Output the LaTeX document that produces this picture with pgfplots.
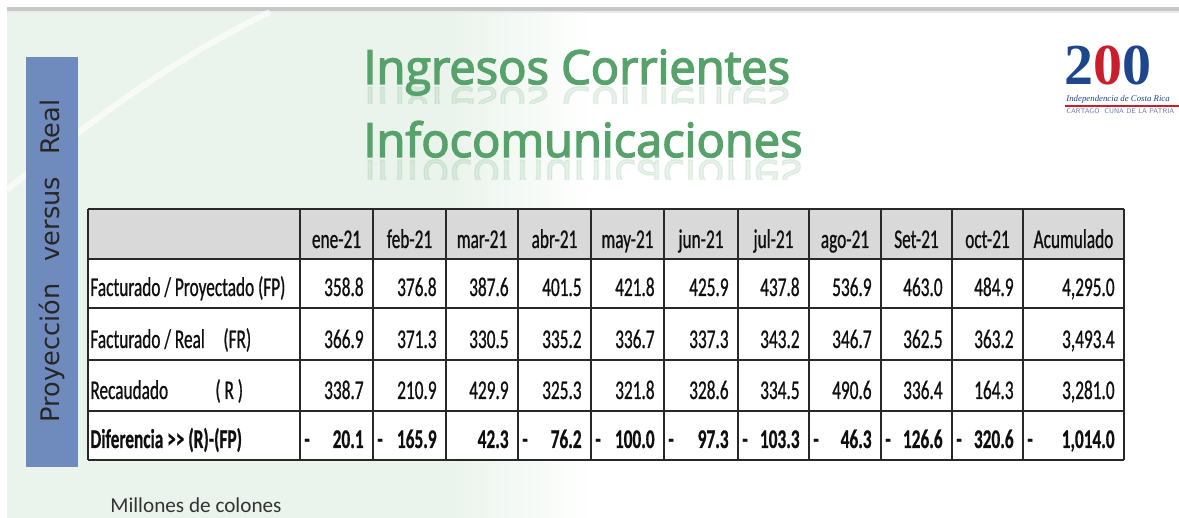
\documentclass[border=0pt]{standalone}
\usepackage{pgfplots}
\usepackage{pgfplotstable}
\pgfplotsset{compat=1.18}
\usepackage{fontspec}
\setmainfont{Carlito}
\newfontfamily\tabfont{Carlito}[FakeStretch=0.64, UprightFeatures={FakeBold=0.7}, BoldFeatures={FakeBold=0.6}]
\newfontfamily\titlefont{Open Sans}[FakeBold=3]
\newfontfamily\sidefont{DejaVu Sans}
\newfontfamily\logofont{Liberation Serif}
\definecolor{bggreen}{RGB}{235,244,236}
\definecolor{sideblue}{RGB}{111,139,189}
\definecolor{titlegreen}{RGB}{86,162,106}
\definecolor{hdrgray}{RGB}{217,217,217}
\definecolor{gridc}{RGB}{40,40,40}
\definecolor{logoblue}{RGB}{30,70,140}
\definecolor{logored}{RGB}{200,30,45}
\definecolor{txt}{RGB}{15,15,15}
\pgfdeclarehorizontalshading{bgsh}{100bp}{color(0bp)=(bggreen); color(44bp)=(bggreen); color(50bp)=(white); color(100bp)=(white)}

\pgfplotstableread{
mes xl xr FP FR R D Dsign
ene-21 300 373 358.8 366.9 338.7 20.1 -
feb-21 373 446 376.8 371.3 210.9 165.9 -
mar-21 446 518 387.6 330.5 429.9 42.3 {}
abr-21 518 591 401.5 335.2 325.3 76.2 -
may-21 591 664 421.8 336.7 321.8 100.0 -
jun-21 664 738 425.9 337.3 328.6 97.3 -
jul-21 738 809 437.8 343.2 334.5 103.3 -
ago-21 809 881 536.9 346.7 490.6 46.3 -
Set-21 881 952 463.0 362.5 336.4 126.6 -
oct-21 952 1023 484.9 363.2 164.3 320.6 -
Acumulado 1023 1124 4,295.0 3,493.4 3,281.0 1,014.0 -
}\datos

\newcommand\tabsize{\tabfont\fontsize{13.5}{16}\selectfont}
\newcommand\ttl{\titlefont\fontsize{23.5}{28}\selectfont}

\begin{document}
\begin{tikzpicture}
\begin{axis}[
  width=589.5pt, height=259pt, scale only axis,
  xmin=0, xmax=1179, ymin=0, ymax=518, y dir=reverse,
  hide axis, clip=true,
  every node near coord/.append style={inner sep=0pt, text=txt, font=\tabsize},
]
% background
\fill[white] (axis cs:0,0) rectangle (axis cs:1179,518);
\shade[shading=bgsh] (axis cs:7,12) rectangle (axis cs:1179,518);
\fill[black!22] (axis cs:7,7) rectangle (axis cs:1179,11);
\fill[black!8] (axis cs:7,11) rectangle (axis cs:1179,13);
\draw[white, opacity=0.6, line width=3pt] (axis cs:7,190) .. controls (axis cs:90,120) and (axis cs:180,55) .. (axis cs:270,12);
% side box
\fill[sideblue] (axis cs:26,57) rectangle (axis cs:78,467);
\node[rotate=90, text=black!85, font=\sidefont\fontsize{12.8}{14}\selectfont] at (axis cs:52,261) {Proyección\hspace{7pt} versus\hspace{7pt} Real};
% title
\node[anchor=base west, inner sep=0pt, text=titlegreen, font=\ttl] at (axis cs:363,84) {Ingresos Corrientes};
\node[anchor=base west, inner sep=0pt, text=titlegreen, font=\ttl] at (axis cs:363,157) {Infocomunicaciones};
\begin{scope}
\clip (axis cs:340,87) rectangle (axis cs:830,104);
\node[anchor=base west, inner sep=0pt, yscale=-1, transform shape, text=titlegreen, opacity=0.13, font=\ttl] at (axis cs:363,87) {Ingresos Corrientes};
\end{scope}
\begin{scope}
\clip (axis cs:340,160) rectangle (axis cs:830,180);
\node[anchor=base west, inner sep=0pt, yscale=-1, transform shape, text=titlegreen, opacity=0.13, font=\ttl] at (axis cs:363,160) {Infocomunicaciones};
\end{scope}
% logo
\node[anchor=base west, inner sep=0pt, font=\logofont\bfseries\fontsize{29}{30}\selectfont] at (axis cs:1064,85) {{\color{logoblue}2}{\color{logored}0}{\color{logoblue}0}};
\node[anchor=base west, inner sep=0pt, text=logoblue, font=\logofont\itshape\fontsize{4.4}{5}\selectfont] at (axis cs:1066,102) {Independencia de Costa Rica};
\draw[logored, line width=0.6pt] (axis cs:1065,106) -- (axis cs:1179,106);
\node[anchor=base west, inner sep=0pt, text=logoblue!70, font=\sffamily\fontsize{3.4}{4}\selectfont] at (axis cs:1066,114) {CARTAGO \ CUNA DE LA PATRIA};
% table cells
\fill[hdrgray] (axis cs:88,209) rectangle (axis cs:1124,259);
\fill[white] (axis cs:88,259) rectangle (axis cs:1124,460);
\pgfplotsinvokeforeach{209,259,308,360,411,460}{
  \draw[gridc, line width=1pt] (axis cs:88,#1) -- (axis cs:1124,#1);
}
\pgfplotsinvokeforeach{88,300,373,446,518,591,664,738,809,881,952,1023,1124}{
  \draw[gridc, line width=1pt] (axis cs:#1,209) -- (axis cs:#1,460);
}
% row labels
\node[anchor=base west, inner sep=0pt, text=txt, font=\tabsize] at (axis cs:90,296) {Facturado / Proyectado (FP)};
\node[anchor=base west, inner sep=0pt, text=txt, font=\tabsize] at (axis cs:90,348) {Facturado / Real};
\node[anchor=base west, inner sep=0pt, text=txt, font=\tabsize] at (axis cs:223,348) {(FR)};
\node[anchor=base west, inner sep=0pt, text=txt, font=\tabsize] at (axis cs:90,399) {Recaudado};
\node[anchor=base west, inner sep=0pt, text=txt, font=\tabsize] at (axis cs:215,399) {( R )};
\node[anchor=base west, inner sep=0pt, text=txt, font=\tabsize\bfseries] at (axis cs:90,448) {Diferencia >> (R)-(FP)};
% headers
\addplot[draw=none, mark=none, nodes near coords, point meta=explicit symbolic,
  every node near coord/.append style={anchor=base}]
  table[x expr={(\thisrow{xl}+\thisrow{xr})/2}, y expr=248, meta=mes] {\datos};
% values
\addplot[draw=none, mark=none, nodes near coords, point meta=explicit symbolic,
  every node near coord/.append style={anchor=base east}]
  table[x expr={\thisrow{xr}-9}, y expr=296, meta=FP] {\datos};
\addplot[draw=none, mark=none, nodes near coords, point meta=explicit symbolic,
  every node near coord/.append style={anchor=base east}]
  table[x expr={\thisrow{xr}-9}, y expr=348, meta=FR] {\datos};
\addplot[draw=none, mark=none, nodes near coords, point meta=explicit symbolic,
  every node near coord/.append style={anchor=base east}]
  table[x expr={\thisrow{xr}-9}, y expr=399, meta=R] {\datos};
\addplot[draw=none, mark=none, nodes near coords, point meta=explicit symbolic,
  every node near coord/.append style={anchor=base east, font=\tabsize\bfseries}]
  table[x expr={\thisrow{xr}-9}, y expr=448, meta=D] {\datos};
\addplot[draw=none, mark=none, nodes near coords, point meta=explicit symbolic,
  every node near coord/.append style={anchor=base west, font=\tabsize\bfseries}]
  table[x expr={\thisrow{xl}+4}, y expr=448, meta=Dsign] {\datos};
% note
\node[anchor=base west, inner sep=0pt, text=black!80, font=\fontsize{10.6}{13}\selectfont] at (axis cs:110,512) {Millones de colones};
\end{axis}
\end{tikzpicture}
\end{document}
